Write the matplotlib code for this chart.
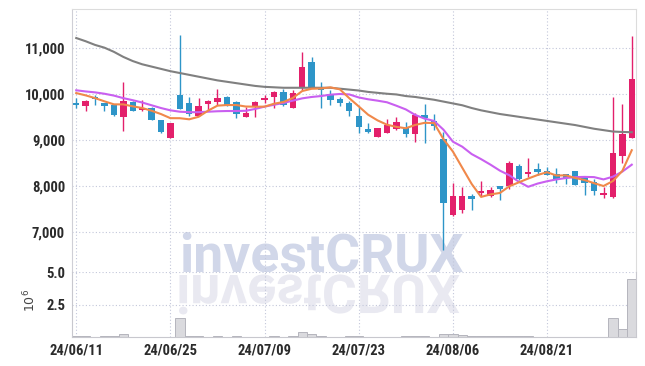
import matplotlib
matplotlib.use("Agg")
import matplotlib.pyplot as plt
from matplotlib import font_manager
from matplotlib.textpath import TextPath
from matplotlib.font_manager import FontProperties
from matplotlib.patches import PathPatch
from matplotlib.transforms import Affine2D

# ---- data (daily candles, 24/06/11 .. 24/09/03) ----
opens = [9820, 9746, 9950, 9805, 9770, 9495, 9840, 9660, 9705, 9440,
         9060, 9985, 9820, 9530, 9785, 9840, 9935, 9835, 9515, 9745,
         9880, 9950, 10045, 9695, 10145, 10705, 10165, 10005, 9900, 9820,
         9530, 9245, 9080, 9165, 9240, 9275, 9130, 9550, 9420, 9020,
         7385, 7490, 7790, 7860, 7800, 8005, 8005, 8440, 8270, 8370,
         8340, 8270, 8260, 8325, 8210, 8100, 7805, 7760, 8665, 9060]
closes = [9755, 9855, 9890, 9745, 9550, 9855, 9645, 9710, 9445, 9190,
          9370, 9680, 9565, 9745, 9855, 9913, 9745, 9565, 9585, 9835,
          9920, 10058, 9755, 10022, 10590, 10165, 10095, 9875, 9805, 9625,
          9280, 9190, 9260, 9335, 9390, 9130, 9550, 9490, 9310, 7645,
          7785, 7785, 7730, 7905, 7920, 7940, 8515, 8150, 8320, 8305,
          8245, 8150, 8175, 8030, 8080, 7905, 7845, 8715, 9130, 10325]
highs = [9910, 9875, 9990, 9810, 9780, 10265, 9850, 9865, 9720, 9445,
         9380, 11290, 9950, 9920, 9875, 10123, 9965, 9860, 9730, 9855,
         9985, 10065, 10115, 10095, 10915, 10805, 10255, 10095, 9950, 9860,
         9720, 9385, 9265, 9455, 9500, 9405, 9600, 9780, 9565, 9190,
         8075, 7985, 7835, 8125, 7990, 8010, 8545, 8485, 8610, 8500,
         8430, 8405, 8270, 8340, 8225, 8150, 7990, 9930, 9790, 11270]
lows = [9700, 9625, 9770, 9625, 9530, 9205, 9640, 9625, 9440, 9150,
        9050, 9675, 9530, 9520, 9660, 9770, 9740, 9480, 9505, 9500,
        9805, 9695, 9750, 9690, 10095, 10160, 9695, 9770, 9745, 9530,
        9150, 9150, 9065, 9160, 9230, 9080, 8970, 8950, 9225, 6615,
        7360, 7425, 7480, 7790, 7775, 7700, 7940, 8145, 8210, 8245,
        8240, 8065, 8050, 8025, 7810, 7810, 7755, 7755, 8515, 9055]
# volume in millions
volume = [0.08, 0.08, 0.01, 0.08, 0.08, 0.22, 0.01, 0.01, 0.01, 0.01,
          0.01, 1.50, 0.08, 0.08, 0.01, 0.08, 0.01, 0.08, 0.01, 0.01,
          0.01, 0.08, 0.01, 0.08, 0.38, 0.22, 0.08, 0.01, 0.01, 0.08,
          0.08, 0.01, 0.01, 0.01, 0.01, 0.08, 0.08, 0.08, 0.01, 0.22,
          0.22, 0.14, 0.08, 0.08, 0.08, 0.08, 0.08, 0.08, 0.08, 0.01,
          0.01, 0.01, 0.01, 0.01, 0.01, 0.01, 0.01, 1.46, 0.62, 4.50]
ma5 = [10025, 9975, 9915, 9845, 9780, 9779, 9737, 9701, 9641, 9569,
       9480, 9479, 9455, 9510, 9643, 9752, 9765, 9765, 9733, 9729,
       9730, 9793, 9831, 9918, 10069, 10118, 10125, 10149, 10106, 9913,
       9736, 9555, 9432, 9338, 9291, 9261, 9333, 9379, 9374, 9025,
       8756, 8403, 8051, 7770, 7825, 7856, 8002, 8086, 8169, 8246,
       8307, 8234, 8239, 8181, 8136, 8068, 8007, 8115, 8335, 8784]
ma20 = [10085, 10060, 10040, 10010, 9970, 9915, 9870, 9820, 9760, 9700,
        9650, 9620, 9610, 9610, 9620, 9630, 9635, 9635, 9640, 9680,
        9730, 9770, 9810, 9860, 9910, 9940, 9960, 9990, 10005, 9995,
        9930, 9890, 9860, 9825, 9750, 9670, 9550, 9470, 9420, 9230,
        8970, 8860, 8700, 8590, 8470, 8340, 8240, 8100, 7990, 8060,
        8110, 8150, 8180, 8200, 8205, 8200, 8150, 8210, 8320, 8470]
ma60 = [11220, 11150, 11070, 11010, 10920, 10810, 10720, 10650, 10600, 10550,
        10500, 10460, 10420, 10380, 10340, 10300, 10270, 10240, 10210, 10180,
        10160, 10150, 10140, 10140, 10140, 10140, 10140, 10140, 10120, 10100,
        10080, 10050, 10030, 10010, 9995, 9960, 9940, 9910, 9880, 9840,
        9800, 9760, 9700, 9650, 9610, 9570, 9540, 9510, 9480, 9450,
        9420, 9390, 9360, 9330, 9290, 9250, 9220, 9190, 9180, 9175]
tick_idx = [0, 10, 20, 30, 40, 50]
tick_lbl = ["24/06/11", "24/06/25", "24/07/09", "24/07/23", "24/08/06", "24/08/21"]
price_ticks = [7000, 8000, 9000, 10000, 11000]

UP, DOWN = "#e3206b", "#2e95c8"
GRID = "#c3c7da"
TXT = "#2b2b2b"

names = {f.name for f in font_manager.fontManager.ttflist}
if "Roboto Condensed" in names:
    tick_font = dict(family="Roboto Condensed", weight="bold", size=10.5)
elif "Liberation Sans Narrow" in names:
    tick_font = dict(family="Liberation Sans Narrow", weight="bold", size=10.5)
else:
    tick_font = dict(family="Roboto", weight="bold", size=9.2)

fig = plt.figure(figsize=(6.45, 3.66), dpi=100)
W, H = 645.0, 366.0
ax = fig.add_axes([72 / W, 1 - 272 / H, 564 / W, 263 / H])
axv = fig.add_axes([72 / W, 1 - 337 / H, 564 / W, 65 / H], sharex=ax)

n = len(closes)
x = list(range(n))
cols = [UP if c >= o else DOWN for o, c in zip(opens, closes)]

# candles
ax.vlines(x, lows, highs, colors=cols, lw=1.0, zorder=2)
body_lo = [min(o, c) for o, c in zip(opens, closes)]
body_h = [max(abs(c - o), 18) for o, c in zip(opens, closes)]
ax.bar(x, body_h, bottom=body_lo, width=0.68, color=cols, zorder=2.5)

# moving averages
ax.plot(x, ma60, color="#808080", lw=1.5, zorder=3)
ax.plot(x, ma20, color="#c95ff0", lw=1.5, zorder=3)
ax.plot(x, ma5, color="#f0884a", lw=1.5, zorder=3)

ax.set_xlim(-0.45, n - 0.55)
ax.set_ylim(6140, 11850)
ax.set_yticks(price_ticks)
ax.set_yticklabels([f"{v:,}" for v in price_ticks])

# volume
axv.bar(x, volume, width=1.0, color="#dadade", edgecolor="#b5b5bd", lw=0.7, zorder=2)
axv.set_ylim(0, 5.0)
axv.set_yticks([2.5, 5.0])
axv.set_yticklabels(["2.5", "5.0"])
axv.set_xticks(tick_idx)
axv.set_xticklabels(tick_lbl)
plt.setp(ax.get_xticklabels(), visible=False)

for a in (ax, axv):
    a.set_facecolor("white")
    a.set_axisbelow(True)
    a.grid(True, color=GRID, lw=0.8, linestyle=(0, (1, 2)))
    a.tick_params(length=0, pad=5, colors=TXT)
    for lbl in a.get_xticklabels() + a.get_yticklabels():
        lbl.set(**tick_font)
        lbl.set_color(TXT)

ax.spines["bottom"].set_visible(False)
ax.spines["left"].set_color("#cfcfd6")
ax.spines["top"].set_color("#dcdcdc")
ax.spines["right"].set_color("#dcdcdc")
axv.spines["top"].set_visible(False)
for s in ("left", "right", "bottom"):
    axv.spines[s].set_color("#c8c8ce")

fig.text(30 / W, 1 - 300 / H, r"$10^{6}$", rotation=90, ha="center", va="center",
         fontsize=9, color="#444444")

# watermark: real text, plus a mirrored reflection in the volume panel
WM_SIZE = 38.5
wm_font = FontProperties(family="Roboto", weight="bold", size=WM_SIZE)
ax.text(179 / W, 1 - 272 / H, "investCRUX", transform=fig.transFigure,
        fontproperties=wm_font, color="#d1d7e9", ha="left", va="baseline",
        zorder=0.2, clip_on=False)

tp = TextPath((0, 0), "investCRUX", prop=wm_font, size=WM_SIZE * 100 / 72)
e = tp.get_extents()
tr = (Affine2D().translate(-e.x0, 0).scale(1 / W, -1 / H)
      .translate(179 / W, 1 - 275 / H))
axv.add_artist(PathPatch(tp, facecolor="#e9e9f1", edgecolor="none",
                         transform=tr + fig.transFigure, zorder=0.2, clip_on=False))

fig.savefig("out.png", dpi=100)
